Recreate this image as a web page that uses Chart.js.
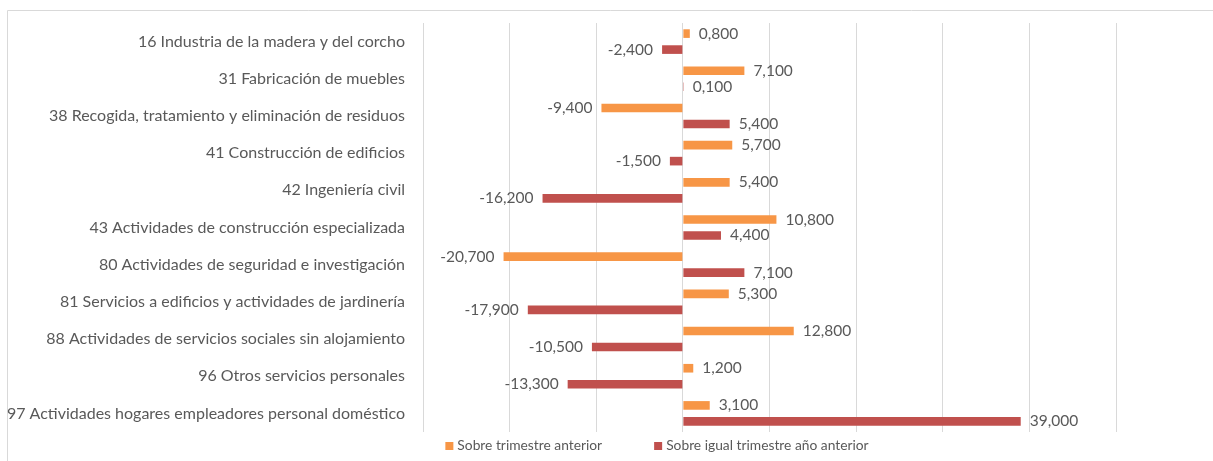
<!DOCTYPE html>
<html>
<head>
<meta charset="utf-8">
<script src="https://cdn.jsdelivr.net/npm/chart.js@4.4.1/dist/chart.umd.min.js"></script>
<style>
  html, body { margin: 0; padding: 0; background: #fff; }
  #wrap { width: 1213px; height: 461px; position: relative; }
</style>
</head>
<body>
<div id="wrap"><canvas id="afiliados"></canvas></div>
<script>
const categorias = [
    '16 Industria de la madera y del corcho',
    '31 Fabricación de muebles',
    '38 Recogida, tratamiento y eliminación de residuos',
    '41 Construcción de edificios',
    '42 Ingeniería civil',
    '43 Actividades de construcción especializada',
    '80 Actividades de seguridad e investigación',
    '81 Servicios a edificios y actividades de jardinería',
    '88 Actividades de servicios sociales sin alojamiento',
    '96 Otros servicios personales',
    '97 Actividades hogares empleadores personal doméstico'
];
const trimestreAnterior = [0.8, 7.1, -9.4, 5.7, 5.4, 10.8, -20.7, 5.3, 12.8, 1.2, 3.1];
const igualTrimestreAnioAnterior = [-2.4, 0.1, 5.4, -1.5, -16.2, 4.4, 7.1, -17.9, -10.5, -13.3, 39.0];
const nombresSeries = ['Sobre trimestre anterior', 'Sobre igual trimestre año anterior'];
const colores = ['#F79646', '#C0504D'];

const FUENTE = 'Lato, "Noto Sans", sans-serif';
const GRIS = '#595959';

// marco gris alrededor del grafico
const marco = {
    id: 'marco',
    beforeDraw(chart) {
        const ctx = chart.ctx;
        ctx.save();
        ctx.strokeStyle = '#d9d9d9';
        ctx.lineWidth = 1;
        ctx.beginPath();
        ctx.moveTo(7.5, chart.height);
        ctx.lineTo(7.5, 10.5);
        ctx.lineTo(chart.width, 10.5);
        ctx.stroke();
        ctx.restore();
    }
};

// etiquetas de valor al final de cada barra
const etiquetas = {
    id: 'etiquetas',
    afterDatasetsDraw(chart) {
        const ctx = chart.ctx;
        ctx.save();
        ctx.font = '15.5px ' + FUENTE;
        ctx.fillStyle = GRIS;
        ctx.textBaseline = 'middle';
        chart.data.datasets.forEach((ds, i) => {
            const meta = chart.getDatasetMeta(i);
            meta.data.forEach((bar, j) => {
                const v = ds.data[j];
                const txt = v.toFixed(3).replace('.', ',');
                if (v >= 0) {
                    ctx.textAlign = 'left';
                    ctx.fillText(txt, bar.x + 9, bar.y);
                } else {
                    ctx.textAlign = 'right';
                    ctx.fillText(txt, bar.x - 9, bar.y);
                }
            });
        });
        ctx.restore();
    }
};

// leyenda inferior dibujada a mano para respetar la separacion
const leyenda = {
    id: 'leyenda',
    afterDraw(chart) {
        const ctx = chart.ctx;
        ctx.save();
        ctx.font = '13.8px ' + FUENTE;
        ctx.textBaseline = 'middle';
        const caja = 8, sep = 4, hueco = 52;
        const anchos = chart.data.datasets.map(ds => caja + sep + ctx.measureText(ds.label).width);
        const total = anchos.reduce((a, b) => a + b, 0) + hueco * (anchos.length - 1);
        let x = 657 - total / 2;
        const y = 446;
        chart.data.datasets.forEach((ds, i) => {
            ctx.fillStyle = ds.backgroundColor;
            ctx.fillRect(x, y - caja / 2, caja, caja);
            ctx.fillStyle = GRIS;
            ctx.textAlign = 'left';
            ctx.fillText(ds.label, x + caja + sep, y);
            x += anchos[i] + hueco;
        });
        ctx.restore();
    }
};

const ctx = document.getElementById('afiliados').getContext('2d');
new Chart(ctx, {
    type: 'bar',
    data: {
        labels: categorias,
        datasets: [
            {
                label: nombresSeries[0],
                data: trimestreAnterior,
                backgroundColor: colores[0],
                categoryPercentage: 0.86,
                barPercentage: 0.54
            },
            {
                label: nombresSeries[1],
                data: igualTrimestreAnioAnterior,
                backgroundColor: colores[1],
                categoryPercentage: 0.86,
                barPercentage: 0.54
            }
        ]
    },
    options: {
        indexAxis: 'y',
        responsive: true,
        maintainAspectRatio: false,
        animation: false,
        layout: {
            padding: { left: 0, right: 97, top: 23, bottom: 29 }
        },
        plugins: {
            legend: { display: false },
            tooltip: { enabled: false }
        },
        scales: {
            x: {
                min: -30,
                max: 50,
                ticks: { display: false, stepSize: 10 },
                grid: { color: '#d9d9d9', drawTicks: false },
                border: { display: false },
                afterFit(scale) { scale.height = 0; }
            },
            y: {
                grid: { display: false, drawTicks: false },
                border: { display: false },
                ticks: {
                    color: GRIS,
                    padding: 18,
                    font: { family: FUENTE, size: 16 }
                },
                afterFit(scale) {
                    scale.width = 423;
                    scale.paddingTop = 0;
                    scale.paddingBottom = 0;
                }
            }
        }
    },
    plugins: [marco, etiquetas, leyenda]
});
</script>
</body>
</html>
